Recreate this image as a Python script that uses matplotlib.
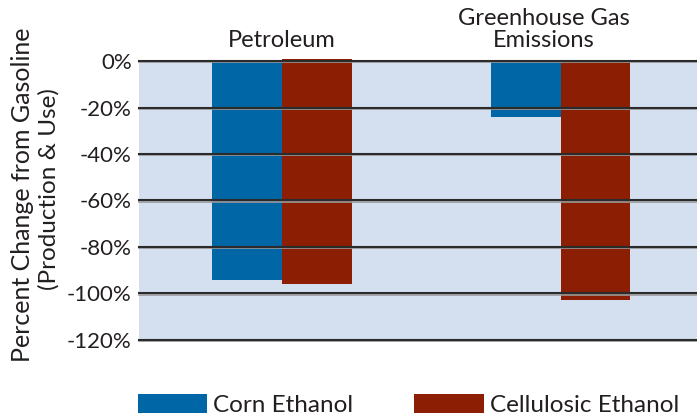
import matplotlib
matplotlib.use("Agg")
import matplotlib.pyplot as plt
from matplotlib.patches import Patch

plt.rcParams['font.family'] = ['Lato', 'DejaVu Sans']

categories = ["Petroleum", "Greenhouse Gas\nEmissions"]
series_names = ["Corn Ethanol", "Cellulosic Ethanol"]
corn = [-94, -24]
cellulosic = [-96, -103]
cellulosic_base = [1, 0]
yticks = [0, -20, -40, -60, -80, -100, -120]
ytick_labels = ["0%", "-20%", "-40%", "-60%", "-80%", "-100%", "-120%"]

blue = "#0066A6"
red = "#8B1E03"
bg = "#D4E0F0"
text_col = "#231F20"

fig = plt.figure(figsize=(6.97, 4.17), dpi=100)
ax = fig.add_axes([0.199, 0.1847, 0.801, 0.669])
ax.set_facecolor(bg)

x = list(range(len(categories)))
w = 0.25
ax.bar([i - w / 2 for i in x], corn, width=w, color=blue, zorder=2)
ax.bar([i + w / 2 for i in x], [c - b for c, b in zip(cellulosic, cellulosic_base)],
       bottom=cellulosic_base, width=w, color=red, zorder=2, clip_on=False)

ax.set_xlim(-0.515, 1.49)
ax.set_ylim(-120, 0)
ax.set_yticks(yticks)
ax.set_yticklabels(ytick_labels, fontsize=16, color=text_col)
ax.tick_params(axis='y', length=0, pad=5)
ax.set_xticks([])
for s in ax.spines.values():
    s.set_visible(False)
for yv in yticks:
    ax.axhline(yv - 0.55, color="#9a9a9a", lw=1.2, zorder=3, clip_on=False)
    ax.axhline(yv, color="#2b2b2b", lw=1.5, zorder=4, clip_on=False)

label_x = [0.0, -0.06]
for i, c in enumerate(categories):
    ax.text(label_x[i] + i, 1.035, c, transform=ax.get_xaxis_transform(),
            ha="center", va="bottom", fontsize=17, color=text_col, linespacing=1.05)

fig.text(0.032, 0.532, "Percent Change from Gasoline", rotation=90, ha="center", va="center",
         fontsize=18, color=text_col)
fig.text(0.070, 0.547, "(Production & Use)", rotation=90, ha="center", va="center",
         fontsize=17.5, color=text_col)

handles = [Patch(facecolor=blue), Patch(facecolor=red)]
leg = fig.legend(handles, series_names, loc="center left", bbox_to_anchor=(0.198, 0.029),
                 ncol=2, frameon=False, fontsize=17.5, handlelength=2.85, handleheight=0.85,
                 handletextpad=0.25, columnspacing=2.5, labelcolor=text_col,
                 borderpad=0, borderaxespad=0)

fig.savefig("out.png", dpi=100)
